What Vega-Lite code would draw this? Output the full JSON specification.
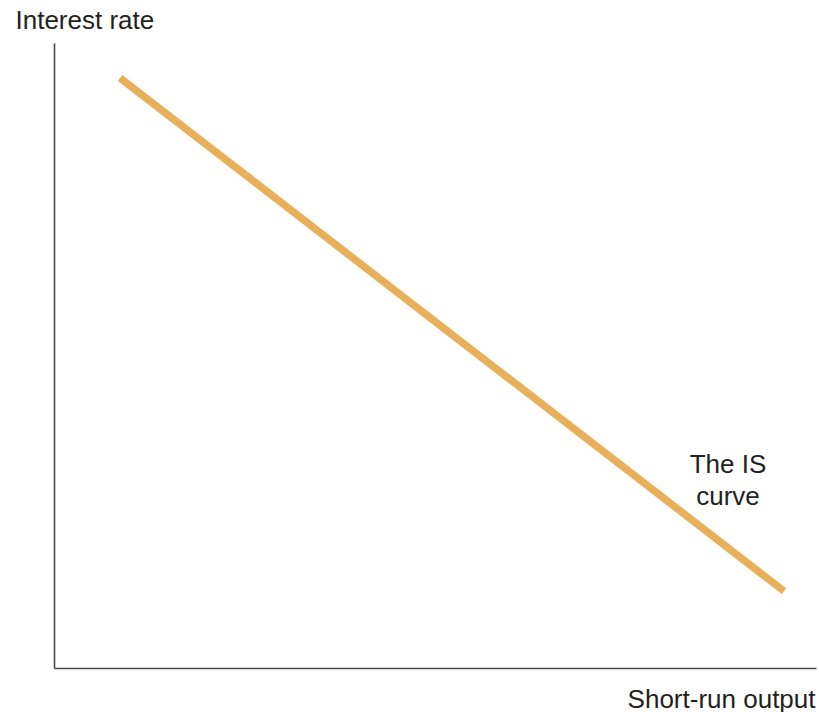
{
  "$schema": "https://vega.github.io/schema/vega-lite/v6.json",
  "width": 762,
  "height": 625,
  "autosize": "none",
  "padding": {"left": 54, "top": 43, "right": 3, "bottom": 44},
  "background": "white",
  "config": {
    "view": {"stroke": null},
    "font": "Liberation Sans",
    "axis": {
      "domainColor": "#4a4a4a",
      "domainWidth": 1.6,
      "ticks": false,
      "labels": false,
      "grid": false,
      "titleFont": "Liberation Sans",
      "titleFontSize": 26,
      "titleFontWeight": "normal",
      "titleColor": "#231f20"
    }
  },
  "datasets": {
    "curve": [
      {"output": 8.66, "rate": 94.4},
      {"output": 95.8, "rate": 12.3}
    ],
    "note": [
      {"output": 88.45, "rate": 31.2, "label": "The IS\ncurve"}
    ]
  },
  "layer": [
    {
      "data": {"name": "curve"},
      "mark": {"type": "line", "color": "#E8B05A", "strokeWidth": 7.5, "strokeCap": "butt"},
      "encoding": {
        "x": {
          "field": "output", "type": "quantitative",
          "scale": {"domain": [0, 100]},
          "axis": {
            "title": "Short-run output",
            "titleAngle": 0,
            "titleAlign": "right",
            "titleBaseline": "alphabetic",
            "titleX": 761,
            "titleY": 39
          }
        },
        "y": {
          "field": "rate", "type": "quantitative",
          "scale": {"domain": [0, 100]},
          "axis": {
            "title": "Interest rate",
            "titleAngle": 0,
            "titleAlign": "left",
            "titleBaseline": "alphabetic",
            "titleX": -39,
            "titleY": -15
          }
        }
      }
    },
    {
      "data": {"name": "note"},
      "mark": {"type": "text", "align": "center", "baseline": "alphabetic", "fontSize": 26, "color": "#231f20", "lineBreak": "\n", "lineHeight": 32},
      "encoding": {
        "x": {"field": "output", "type": "quantitative"},
        "y": {"field": "rate", "type": "quantitative"},
        "text": {"field": "label"}
      }
    }
  ]
}
